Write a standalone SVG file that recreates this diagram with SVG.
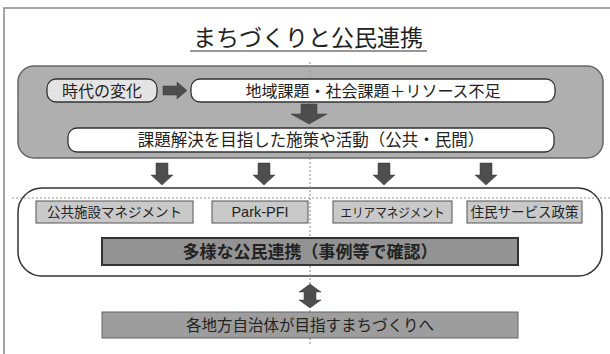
<svg xmlns="http://www.w3.org/2000/svg" width="610" height="354" viewBox="0 0 610 354">
<defs>
<style>
text{font-family:"Noto Sans CJK JP","Noto Sans",sans-serif;fill:#222;text-anchor:middle;}
.pill{fill:#fff;stroke:#333;stroke-width:1.3;}
.sub{fill:#c9c9c9;stroke:#555;stroke-width:1;}
.arr{fill:#4d4d4d;stroke:#3a3a3a;stroke-width:0.5;}
.dot{stroke:#999;stroke-width:1.2;stroke-dasharray:2 2;fill:none;}
</style>
</defs>
<rect width="610" height="354" fill="#fff"/>
<path d="M4 354 V8 H610" fill="none" stroke="#888" stroke-width="1.5"/>
<g id="title">
<text x="308" y="46" font-size="23">まちづくりと公民連携</text>
<line x1="190" y1="51" x2="427" y2="51" stroke="#333" stroke-width="1.2"/>
</g>
<g id="background">
<rect x="18" y="66" width="585" height="92" rx="16" fill="#afafaf" stroke="#666" stroke-width="1.5"/>
<rect x="18" y="188" width="584" height="88" rx="24" fill="#fff" stroke="#333" stroke-width="1.5"/>
</g>
<g id="guides">
<line class="dot" x1="310" y1="62" x2="310" y2="346"/>
<line class="dot" x1="12" y1="198" x2="610" y2="198"/>
</g>
<g id="n-change">
<rect class="pill" x="47" y="79" width="110" height="23" rx="9" style="fill:#e4e4e4"/>
<text x="102" y="96.5" font-size="16">時代の変化</text>
</g>
<g id="n-issues">
<rect class="pill" x="191" y="79" width="364" height="23" rx="9"/>
<text x="373" y="96.5" font-size="16">地域課題・社会課題＋リソース不足</text>
</g>
<g id="n-measures">
<rect class="pill" x="68" y="128" width="486" height="24" rx="9"/>
<text x="311" y="146" font-size="16.5">課題解決を目指した施策や活動（公共・民間）</text>
</g>
<g id="n-pfm">
<rect class="sub" x="36" y="201" width="157" height="22"/>
<text x="114.5" y="217" font-size="13.5">公共施設マネジメント</text>
</g>
<g id="n-parkpfi">
<rect class="sub" x="212" y="201" width="96" height="22"/>
<text x="260" y="217" font-size="14.5" style="font-family:'Liberation Sans',sans-serif">Park-PFI</text>
</g>
<g id="n-area">
<rect class="sub" x="333" y="201" width="119" height="22"/>
<text x="392.5" y="217" font-size="13" textLength="104" lengthAdjust="spacingAndGlyphs">エリアマネジメント</text>
</g>
<g id="n-resident">
<rect class="sub" x="467" y="201" width="115" height="22"/>
<text x="524.5" y="217" font-size="13.5">住民サービス政策</text>
</g>
<g id="n-ppp">
<rect x="102" y="238" width="416" height="27" fill="#939393" stroke="#333" stroke-width="2"/>
<text x="310" y="258" font-size="17" font-weight="bold">多様な公民連携（事例等で確認）</text>
</g>
<g id="n-goal">
<rect x="102" y="312" width="416" height="26" fill="#9d9d9d" stroke="#666" stroke-width="1"/>
<text x="310" y="331" font-size="15.5">各地方自治体が目指すまちづくりへ</text>
</g>
<g id="connectors">
<path class="arr" d="M163 86 H177 V82 L187 90.5 L177 99 V95 H163 Z"/>
<path class="arr" d="M301 104 H317 V114 H327 L309 124 L291 114 H301 Z"/>
<path class="arr" d="M156 163 H168 V175 H173 L162 185 L151 175 H156 Z"/>
<path class="arr" d="M258 163 H270 V175 H275 L264 185 L253 175 H258 Z"/>
<path class="arr" d="M378 163 H390 V175 H395 L384 185 L373 175 H378 Z"/>
<path class="arr" d="M480 163 H492 V175 H497 L486 185 L475 175 H480 Z"/>
<path class="arr" d="M310 284 L321 292 H316 V300 H321 L310 308 L299 300 H304 V292 H299 Z"/>
</g>
</svg>
